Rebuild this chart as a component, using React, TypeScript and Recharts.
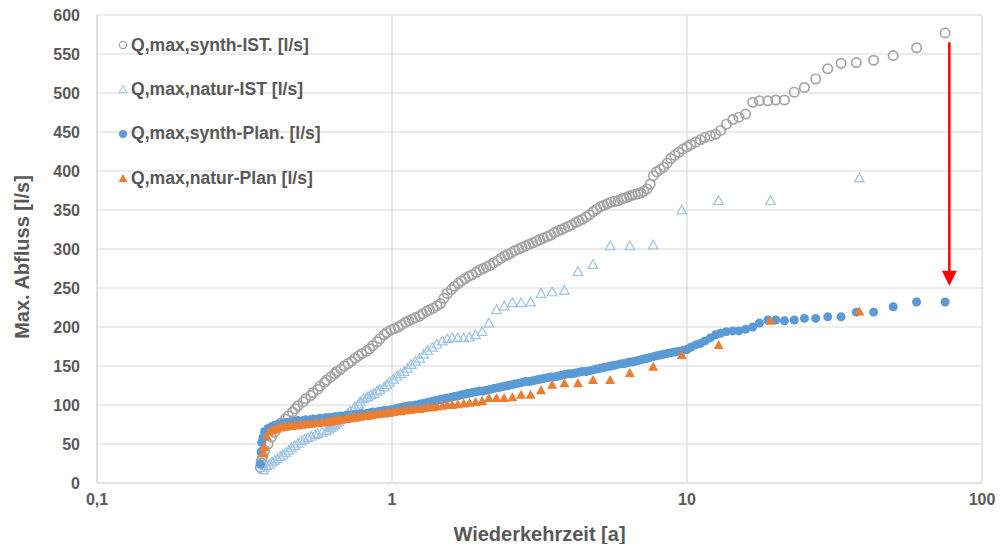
import {
  ScatterChart,
  Scatter,
  XAxis,
  YAxis,
  CartesianGrid,
  ReferenceLine,
  ReferenceDot,
} from "recharts";

// return periods [a] of the synthetic series (rank order, largest first)
const synthT = [
  75, 60, 50, 42.9, 37.5, 33.3, 30, 27.3, 25, 23.1,
  21.4, 20, 18.8, 17.6, 16.7, 15.8, 15, 14.3, 13.6, 13,
  12.5, 12, 11.5, 11.1, 10.7, 10.3, 10, 9.68, 9.38, 9.09,
  8.82, 8.57, 8.33, 8.11, 7.89, 7.69, 7.5, 7.32, 7.14, 6.98,
  6.82, 6.67, 6.52, 6.38, 6.25, 6.12, 6.0, 5.84, 5.68, 5.52,
  5.37, 5.22, 5.08, 4.94, 4.81, 4.68, 4.55, 4.42, 4.3, 4.19,
  4.07, 3.96, 3.85, 3.75, 3.65, 3.55, 3.45, 3.36, 3.26, 3.17,
  3.09, 3.0, 2.92, 2.84, 2.76, 2.69, 2.61, 2.54, 2.47, 2.41,
  2.34, 2.28, 2.21, 2.15, 2.09, 2.04, 1.98, 1.93, 1.87, 1.82,
  1.77, 1.72, 1.68, 1.63, 1.59, 1.54, 1.5, 1.46, 1.42, 1.38,
  1.34, 1.31, 1.27, 1.24, 1.2, 1.17, 1.14, 1.11, 1.08, 1.05,
  1.02, 0.99, 0.96, 0.94, 0.91, 0.89, 0.86, 0.84, 0.82, 0.79,
  0.77, 0.75, 0.73, 0.71, 0.69, 0.67, 0.65, 0.64, 0.62, 0.6,
  0.59, 0.57, 0.56, 0.54, 0.53, 0.51, 0.5, 0.48, 0.47, 0.46,
  0.445, 0.435, 0.42, 0.41, 0.4, 0.39, 0.38, 0.37, 0.365, 0.362,
  0.36, 0.358,
];

// Q,max,synth-IST. [l/s]
const synthIst = [
  577, 558, 548, 542, 539, 538, 531, 518, 507, 501,
  491, 491, 490, 490, 488, 473, 469, 466, 460, 452,
  447, 445, 443, 440, 437, 434, 431, 428, 424, 420,
  416, 410, 405, 402, 399, 394, 383, 377, 374, 372,
  371, 370, 369, 368, 366, 365, 364, 362, 361, 360,
  358, 356, 354, 351, 348, 344, 341, 338, 336, 334,
  331, 329, 327, 325, 323, 321, 318, 316, 314, 312,
  310, 308, 306, 304, 302, 300, 298, 295, 293, 291,
  288, 285, 282, 279, 277, 275, 273, 270, 267, 265,
  262, 259, 256, 252, 248, 243, 237, 230, 227, 224,
  222, 220, 217, 214, 212, 210, 208, 206, 203, 200,
  198, 196, 193, 190, 185, 181, 176, 172, 169, 166,
  163, 160, 156, 153, 150, 146, 143, 140, 136, 132,
  129, 124, 120, 116, 112, 108, 104, 99, 95, 91,
  86, 82, 77, 71, 65, 59, 50, 42, 35, 30,
  26, 20,
];

// Q,max,synth-Plan. [l/s]
const synthPlan = [
  232, 232, 226, 219, 219, 213, 213, 211, 211, 209,
  208, 209, 209, 205, 200, 197, 195, 195, 194, 192,
  190, 186, 182, 179, 177, 174, 171, 170, 169, 168,
  167, 166, 165, 164, 163, 162, 161, 160, 159, 158,
  157, 156, 155, 155, 154, 153, 153, 152, 151, 150,
  149, 148, 147, 146, 145, 144, 143, 143, 142, 141,
  140, 140, 139, 138, 137, 136, 136, 135, 134, 133,
  132, 131, 130, 130, 129, 128, 127, 126, 125, 124,
  123, 122, 121, 120, 119, 118, 118, 117, 116, 115,
  114, 113, 112, 111, 110, 109, 108, 107, 106, 105,
  104, 103, 102, 101, 100, 99, 99, 98, 97, 96,
  95, 94, 93, 93, 92, 91, 91, 90, 89, 89,
  88, 88, 87, 87, 86, 86, 85, 85, 84, 84,
  83, 83, 82, 82, 81, 81, 80, 80, 79, 79,
  78, 77, 76, 75, 74, 72, 70, 66, 58, 52,
  40, 24,
];

// return periods [a] of the natural series
const naturT = [
  38.4, 19.2, 12.8, 9.6, 7.68, 6.4, 5.49, 4.8, 4.27, 3.84,
  3.49, 3.2, 2.95, 2.74, 2.56, 2.4, 2.26, 2.13, 2.02, 1.92,
  1.83, 1.75, 1.67, 1.6, 1.54, 1.48, 1.42, 1.37, 1.32, 1.28,
  1.24, 1.2, 1.16, 1.13, 1.1, 1.07, 1.04, 1.01, 0.98, 0.96,
  0.94, 0.91, 0.89, 0.87, 0.85, 0.83, 0.82, 0.8, 0.78, 0.77,
  0.75, 0.74, 0.72, 0.71, 0.7, 0.69, 0.67, 0.66, 0.65, 0.64,
  0.63, 0.62, 0.61, 0.6, 0.58, 0.56, 0.549, 0.533, 0.519, 0.505,
  0.492, 0.48, 0.468, 0.457, 0.447, 0.436, 0.427, 0.418, 0.409, 0.4,
  0.392, 0.384, 0.376, 0.369, 0.366,
];

// Q,max,natur-IST [l/s]
const naturIst = [
  391, 362, 362, 350, 305, 304, 304, 280, 271, 247,
  245, 243, 232, 231, 231, 227, 222, 205, 194, 190,
  187, 186, 186, 186, 185, 182, 178, 174, 170, 165,
  160, 156, 152, 147, 143, 140, 137, 133, 129, 126,
  123, 120, 118, 115, 113, 111, 110, 108, 104, 101,
  98, 95, 92, 89, 87, 85, 82, 79, 77, 75,
  73, 71, 69, 67, 65, 63, 62, 60, 58, 56,
  54, 51, 48, 45, 42, 39, 36, 34, 31, 29,
  27, 24, 22, 20, 17,
];

// Q,max,natur-Plan [l/s]
const naturPlan = [
  220, 208, 177, 164, 149, 141, 132, 132, 128, 128,
  126, 119, 113, 113, 110, 109, 109, 109, 105, 104,
  103, 102, 101, 100, 100, 99, 98, 97, 97, 96,
  95, 95, 94, 94, 93, 92, 92, 91, 90, 90,
  89, 89, 88, 88, 87, 87, 86, 86, 85, 85,
  84, 84, 83, 83, 82, 82, 81, 81, 80, 80,
  80, 79, 79, 78, 78, 77, 77, 76, 76, 75,
  75, 74, 74, 73, 73, 72, 72, 71, 70, 69,
  68, 66, 60, 46, 38,
];

const xTicks = [0.1, 1, 10, 100];
const yTicks = [0, 50, 100, 150, 200, 250, 300, 350, 400, 450, 500, 550, 600];

// red arrow annotation
const arrowT = 77.5;
const arrowFrom = 565;
const arrowTo = 253;

const FONT = '"Liberation Sans", Arial, Helvetica, sans-serif';
const TEXT = "#595959";
const GRID = "#d9d9d9";
const C_GRAY = "#a5a5a5";
const C_LIGHT = "#9dc3e6";
const C_BLUE = "#5b9bd5";
const C_ORANGE = "#ed7d31";

const toPoints = (ts: number[], qs: number[]) => ts.map((t, i) => ({ t, q: qs[i] }));

const synthIstData = toPoints(synthT, synthIst);
const synthPlanData = toPoints(synthT, synthPlan);
const naturIstData = toPoints(naturT, naturIst);
const naturPlanData = toPoints(naturT, naturPlan);

// eslint-disable-next-line @typescript-eslint/no-explicit-any
const OpenCircle = ({ cx, cy }: any) => (
  <circle cx={cx} cy={cy} r={4.7} fill="none" stroke={C_GRAY} strokeWidth={1.7} />
);

// eslint-disable-next-line @typescript-eslint/no-explicit-any
const FilledDot = ({ cx, cy }: any) => <circle cx={cx} cy={cy} r={4.5} fill={C_BLUE} />;

const triPath = (cx: number, cy: number, s: number) =>
  `M${cx},${cy - s} L${cx + s},${cy + s * 0.8} L${cx - s},${cy + s * 0.8} Z`;

// eslint-disable-next-line @typescript-eslint/no-explicit-any
const OpenTriangle = ({ cx, cy }: any) => (
  <path d={triPath(cx, cy, 4.8)} fill="none" stroke={C_LIGHT} strokeWidth={1.2} />
);

// eslint-disable-next-line @typescript-eslint/no-explicit-any
const SolidTriangle = ({ cx, cy }: any) => <path d={triPath(cx, cy, 5)} fill={C_ORANGE} />;

// eslint-disable-next-line @typescript-eslint/no-explicit-any
const ArrowHead = ({ cx, cy }: any) => (
  <path d={`M${cx},${cy} L${cx + 7.5},${cy - 15} L${cx - 7.5},${cy - 15} Z`} fill="#ff0000" />
);

const legendItems = [
  { label: "Q,max,synth-IST. [l/s]", kind: "openCircle" },
  { label: "Q,max,natur-IST [l/s]", kind: "openTriangle" },
  { label: "Q,max,synth-Plan. [l/s]", kind: "dot" },
  { label: "Q,max,natur-Plan [l/s]", kind: "triangle" },
];

function LegendMarker({ kind }: { kind: string }) {
  return (
    <svg width={12} height={12} style={{ display: "block" }}>
      {kind === "openCircle" && (
        <circle cx={6} cy={6} r={3.6} fill="none" stroke={C_GRAY} strokeWidth={1.2} />
      )}
      {kind === "openTriangle" && (
        <path d={triPath(6, 6.5, 4)} fill="none" stroke={C_LIGHT} strokeWidth={1} />
      )}
      {kind === "dot" && <circle cx={6} cy={6} r={4} fill={C_BLUE} />}
      {kind === "triangle" && <path d={triPath(6, 6.5, 4.4)} fill={C_ORANGE} />}
    </svg>
  );
}

function ChartLegend() {
  return (
    <div
      style={{
        position: "absolute",
        left: 117,
        top: 23,
        fontFamily: FONT,
        fontWeight: 700,
        fontSize: 17.6,
        color: TEXT,
      }}
    >
      {legendItems.map((item) => (
        <div key={item.label} style={{ height: 44.3, display: "flex", alignItems: "center" }}>
          <LegendMarker kind={item.kind} />
          <span style={{ marginLeft: 2, whiteSpace: "nowrap" }}>{item.label}</span>
        </div>
      ))}
    </div>
  );
}

const tickStyle = { fontSize: 16, fontWeight: 700, fill: TEXT, fontFamily: FONT };
const titleStyle = { fontSize: 20, fontWeight: 700, fill: TEXT, fontFamily: FONT, textAnchor: "middle" as const };

export default function App() {
  return (
    <div style={{ position: "absolute", left: 0, top: 0, width: 1005, height: 544, background: "#fff" }}>
      <ScatterChart width={1005} height={544} margin={{ top: 15, right: 23, bottom: 0, left: 0 }}>
        <CartesianGrid stroke={GRID} strokeWidth={1.2} />
        <XAxis
          type="number"
          dataKey="t"
          scale="log"
          domain={[0.1, 100]}
          ticks={xTicks}
          tickFormatter={(v: number) => String(v).replace(".", ",")}
          tick={tickStyle}
          tickLine={false}
          tickMargin={5}
          axisLine={{ stroke: GRID, strokeWidth: 1.2 }}
          height={61}
          label={{ value: "Wiederkehrzeit [a]", position: "insideBottom", offset: 3, style: titleStyle }}
        />
        <YAxis
          type="number"
          dataKey="q"
          domain={[0, 600]}
          ticks={yTicks}
          tick={tickStyle}
          tickLine={false}
          tickMargin={11}
          axisLine={{ stroke: GRID, strokeWidth: 1.2 }}
          width={97}
          label={{
            value: "Max. Abfluss [l/s]",
            angle: -90,
            position: "insideLeft",
            offset: 22,
            dy: 8,
            style: titleStyle,
          }}
        />
        <Scatter name="Q,max,synth-IST. [l/s]" data={synthIstData} shape={OpenCircle} isAnimationActive={false} />
        <Scatter name="Q,max,natur-IST [l/s]" data={naturIstData} shape={OpenTriangle} isAnimationActive={false} />
        <Scatter name="Q,max,synth-Plan. [l/s]" data={synthPlanData} shape={FilledDot} isAnimationActive={false} />
        <Scatter name="Q,max,natur-Plan [l/s]" data={naturPlanData} shape={SolidTriangle} isAnimationActive={false} />
        <ReferenceLine
          segment={[
            { x: arrowT, y: arrowFrom },
            { x: arrowT, y: arrowTo + 18 },
          ]}
          stroke="#ff0000"
          strokeWidth={2.5}
        />
        <ReferenceDot x={arrowT} y={arrowTo} shape={ArrowHead} />
      </ScatterChart>
      <ChartLegend />
    </div>
  );
}
